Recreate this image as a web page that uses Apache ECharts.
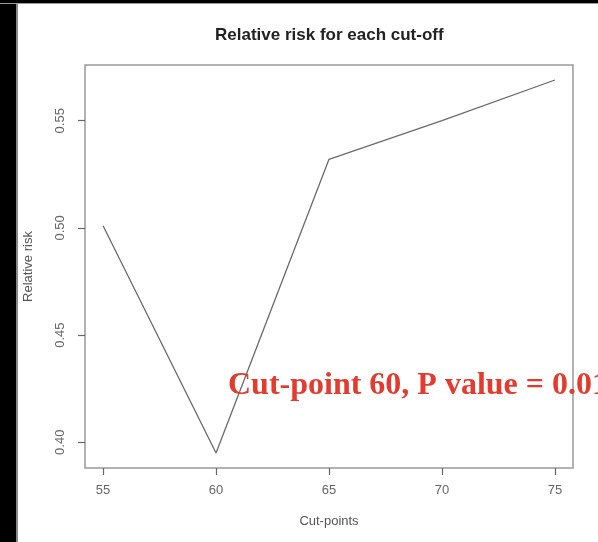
<!DOCTYPE html>
<html>
<head>
<meta charset="utf-8">
<script src="https://cdn.jsdelivr.net/npm/echarts@6/dist/echarts.min.js"></script>
<style>
  html, body { margin: 0; padding: 0; background: #fff; }
  #chart { width: 598px; height: 542px; }
</style>
</head>
<body>
<div id="chart"></div>
<script>
// Cut-off points and the relative risk computed at each one
const cutPoints = [55, 60, 65, 70, 75];
const relativeRisk = [0.501, 0.395, 0.532, 0.550, 0.569];
const xTicks = [55, 60, 65, 70, 75];
const yTicks = [0.40, 0.45, 0.50, 0.55];
const yTickLabels = ['0.40', '0.45', '0.50', '0.55'];
const annotation = 'Cut-point 60, P value = 0.01';

const chart = echarts.init(document.getElementById('chart'), null, { renderer: 'canvas' });

const points = cutPoints.map((c, i) => [c, relativeRisk[i]]);
const sans = 'Liberation Sans, Arial, sans-serif';

chart.setOption({
  backgroundColor: '#ffffff',
  animation: false,
  title: {
    text: 'Relative risk for each cut-off',
    left: 215,
    top: 27,
    padding: 0,
    textStyle: { fontFamily: sans, fontSize: 17, fontWeight: 'bold', color: '#222' }
  },
  grid: {
    left: 85, right: 25, top: 65, bottom: 74,
    show: true, borderColor: '#999', borderWidth: 1.5, backgroundColor: 'transparent'
  },
  xAxis: {
    type: 'value',
    min: 54.2, max: 75.8,
    name: 'Cut-points',
    nameLocation: 'middle',
    nameGap: 47,
    nameTextStyle: { fontFamily: sans, fontSize: 13, color: '#555' },
    axisLine: { show: false },
    splitLine: { show: false },
    axisTick: { show: true, inside: false, length: 7, customValues: xTicks, lineStyle: { color: '#666', width: 1.2 } },
    axisLabel: { customValues: xTicks, margin: 16, fontFamily: sans, fontSize: 13, color: '#666' }
  },
  yAxis: {
    type: 'value',
    min: 0.388, max: 0.576,
    name: 'Relative risk',
    nameLocation: 'middle',
    nameGap: 50,
    nameTextStyle: { fontFamily: sans, fontSize: 13, color: '#555' },
    axisLine: { show: false },
    splitLine: { show: false },
    axisTick: { show: true, inside: false, length: 7, customValues: yTicks, lineStyle: { color: '#666', width: 1.2 } },
    axisLabel: {
      customValues: yTicks, rotate: 90, margin: 18,
      fontFamily: sans, fontSize: 13, color: '#666',
      formatter: v => yTickLabels[yTicks.findIndex(t => Math.abs(t - v) < 1e-9)] || v.toFixed(2)
    }
  },
  series: [{
    type: 'line',
    data: points,
    showSymbol: false,
    silent: true,
    lineStyle: { color: '#6a6a6a', width: 1.3 }
  }],
  graphic: [
    // dark frame along the left and top edges
    { type: 'rect', left: 0, top: 0, z: 100, shape: { width: 16, height: 542 }, style: { fill: '#000' } },
    { type: 'rect', left: 16, top: 0, z: 100, shape: { width: 2, height: 542 }, style: { fill: '#888' } },
    { type: 'rect', left: 0, top: 0, z: 100, shape: { width: 598, height: 3 }, style: { fill: '#000' } },
    { type: 'rect', left: 0, top: 3, z: 100, shape: { width: 598, height: 1 }, style: { fill: '#999' } },
    {
      type: 'text', left: 228, top: 370, z: 50,
      style: {
        text: annotation,
        fill: '#e53b2e',
        fontFamily: '"Liberation Serif", "Times New Roman", serif',
        fontSize: 32,
        fontWeight: 'bold'
      }
    }
  ]
});
</script>
</body>
</html>
